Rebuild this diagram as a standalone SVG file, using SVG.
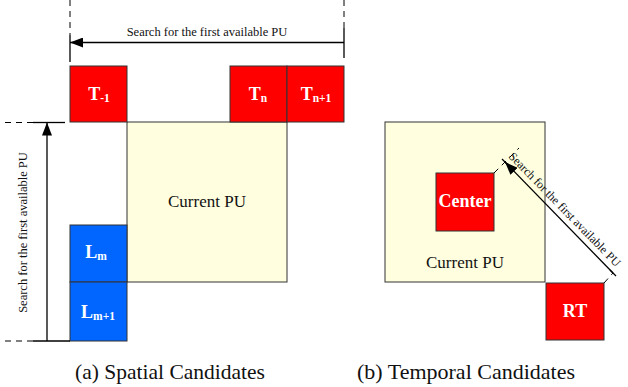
<svg xmlns="http://www.w3.org/2000/svg" width="628" height="387" viewBox="0 0 628 387">
<defs>
<style>
.box{stroke:#333;stroke-width:1}
.red{fill:#FF0000}
.blue{fill:#0066FF}
.pu{fill:#FFFFE0}
.lbl{font-family:"Liberation Serif","Times New Roman",serif;font-weight:bold;fill:#fff;font-size:18px;text-anchor:middle}
.sub{font-size:11.5px}
.txt{font-family:"Liberation Serif","Times New Roman",serif;fill:#111;text-anchor:middle}
.ln{stroke:#000;stroke-width:1.3;fill:none}
.dash{stroke:#000;stroke-width:1;fill:none;stroke-dasharray:6,5}
</style>
<marker id="ah" viewBox="0 0 13 10" refX="13" refY="5" markerWidth="13" markerHeight="10" markerUnits="userSpaceOnUse" orient="auto">
<path d="M0,0 L13,5 L0,10 Z" fill="#000"/>
</marker>
</defs>

<!-- (a) Spatial -->
<g id="curpu-a"><rect class="box pu" x="127" y="122" width="160" height="160"/><text class="txt" x="207" y="207" font-size="17">Current PU</text></g>
<g id="t-1"><rect class="box red" x="70" y="66" width="57" height="56"/><text class="lbl" x="99" y="100">T<tspan class="sub" dy="2">-1</tspan></text></g>
<g id="tn"><rect class="box red" x="230" y="66" width="57" height="56"/><text class="lbl" x="258" y="100">T<tspan class="sub" dy="2">n</tspan></text></g>
<g id="tn1"><rect class="box red" x="287" y="66" width="57" height="56"/><text class="lbl" x="316" y="100">T<tspan class="sub" dy="2">n+1</tspan></text></g>
<g id="lm"><rect class="box blue" x="70" y="225" width="57" height="57"/><text class="lbl" x="96" y="258">L<tspan class="sub" dy="2">m</tspan></text></g>
<g id="lm1"><rect class="box blue" x="70" y="282" width="57" height="59"/><text class="lbl" x="98" y="318">L<tspan class="sub" dy="2">m+1</tspan></text></g>

<!-- (b) Temporal -->
<g id="curpu-b"><rect class="box pu" x="385" y="122" width="160" height="160"/><text class="txt" x="465" y="268" font-size="17">Current PU</text></g>
<g id="center"><rect class="box red" x="436" y="173" width="58" height="58"/><text class="lbl" x="465" y="207">Center</text></g>
<g id="rt"><rect class="box red" x="546" y="283" width="58" height="57"/><text class="lbl" x="575" y="317">RT</text></g>

<g id="connectors">
<!-- top dimension -->
<line class="dash" x1="70" y1="0" x2="70" y2="35"/>
<line class="ln" x1="70" y1="35" x2="70" y2="62" stroke-width="1"/>
<line class="dash" x1="344" y1="0" x2="344" y2="28"/>
<line class="ln" x1="344" y1="28" x2="344" y2="58"/>
<line class="ln" x1="344" y1="42.5" x2="70" y2="42.5" marker-end="url(#ah)"/>
<text class="txt" x="207" y="36" font-size="12.5">Search for the first available PU</text>

<!-- left dimension -->
<line class="dash" x1="5" y1="122.5" x2="33" y2="122.5"/>
<line class="ln" x1="33" y1="122.5" x2="65" y2="122.5" stroke-width="1"/>
<line class="dash" x1="5" y1="341" x2="33" y2="341"/>
<line class="ln" x1="33" y1="341" x2="70" y2="341" stroke-width="1"/>
<line class="ln" x1="47" y1="341" x2="47" y2="122.5" marker-end="url(#ah)"/>
<text class="txt" transform="translate(26.5,232.5) rotate(-90)" font-size="12.5">Search for the first available PU</text>

<!-- diagonal dimension -->
<line class="dash" x1="494" y1="173" x2="519" y2="148" stroke-dasharray="4,4"/>
<line class="dash" x1="604" y1="283" x2="613" y2="273" stroke-dasharray="4,3"/>
<line class="ln" x1="502" y1="159" x2="508" y2="165" stroke-width="1"/>
<line class="ln" x1="610" y1="270" x2="616" y2="276" stroke-width="1"/>
<line class="ln" x1="613" y1="273" x2="505" y2="162" marker-end="url(#ah)"/>
<text font-family="Liberation Serif, Times New Roman, serif" font-size="12" fill="#111" transform="translate(508,157) rotate(45.7)">Search for the first available PU</text>
</g>

<!-- captions -->
<text class="txt" x="170" y="379" font-size="21.5">(a) Spatial Candidates</text>
<text class="txt" x="466" y="379" font-size="22">(b) Temporal Candidates</text>
</svg>
